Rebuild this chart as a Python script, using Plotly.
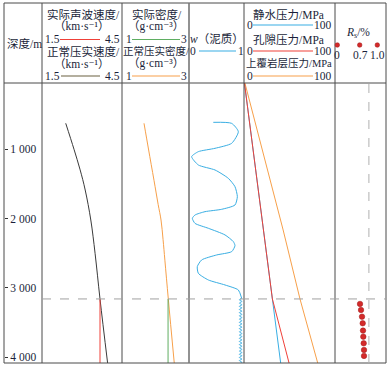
import plotly.graph_objects as go

# ---------------- data ----------------
depth_range = [4080, 50]
depth_ticks = [1000, 2000, 3000, 4000]
depth_ticktext = ["1 000", "2 000", "3 000", "4 000"]
overpressure_top = 3158

# velocity (km/s)
nct_vel_depth = [630, 1004, 1300, 1590, 2022, 2501, 3158, 4080]
nct_vel = [2.39, 2.70, 2.93, 3.12, 3.33, 3.49, 3.675, 3.96]
act_vel_depth = [3158, 4080]
act_vel = [3.675, 3.675]

# density (g/cm3)
nct_den_depth = [630, 1000, 1450, 1800, 2022, 2300, 2600, 3158, 4080]
nct_den = [1.657, 1.79, 1.955, 2.08, 2.165, 2.225, 2.28, 2.382, 2.56]
act_den_depth = [3158, 4080]
act_den = [2.375, 2.375]

# shale content w
shale_depth = [616, 631, 751, 918, 990, 1038, 1110, 1230, 1302, 1422, 1542, 1686,
               1806, 1868, 1902, 1950, 1998, 2070, 2141, 2237, 2333, 2391, 2477,
               2525, 2597, 2693, 2789, 2885, 2957, 3029, 3149]
shale_w = [0.442, 0.776, 0.897, 0.776, 0.473, 0.170, 0.048, 0.170, 0.473, 0.715,
           0.836, 0.879, 0.836, 0.594, 0.291, 0.109, 0.061, 0.109, 0.352, 0.655,
           0.806, 0.836, 0.776, 0.503, 0.230, 0.151, 0.170, 0.352, 0.655, 0.897,
           0.958]
wig_depth = [3149, 3172, 3195, 3218, 3241, 3264, 3287, 3310, 3333, 3356, 3379,
             3402, 3425, 3448, 3471, 3494, 3517, 3540, 3563, 3586, 3609, 3632,
             3655, 3678, 3701, 3724, 3747, 3770, 3793, 3816, 3839, 3862, 3885,
             3908, 3931, 3954, 3977, 4000, 4023, 4046, 4069, 4092]
wig_w = [0.958, 0.915, 0.962, 0.915, 0.962, 0.915, 0.962, 0.915, 0.962, 0.915,
         0.962, 0.915, 0.962, 0.915, 0.962, 0.915, 0.962, 0.915, 0.962, 0.915,
         0.962, 0.915, 0.962, 0.915, 0.962, 0.915, 0.962, 0.915, 0.962, 0.915,
         0.962, 0.915, 0.962, 0.915, 0.962, 0.915, 0.962, 0.915, 0.962, 0.915,
         0.962, 0.915]

# pressure (MPa)
hyd_depth = [0, 4080]
hyd_p = [0, 40.3]
pore_depth = [0, 3158, 4080]
pore_p = [0, 31.2, 49.5]
ob_depth = [0, 2165, 3158, 4080]
ob_p = [0, 43.0, 61.5, 81.0]

# Rs (%)
rs_depth = [3230, 3317, 3413, 3508, 3614, 3701, 3796, 3892, 3978]
rs_val = [0.5675, 0.5925, 0.6175, 0.635, 0.6425, 0.65, 0.66, 0.6675, 0.6675]
rs_threshold = 0.79

# ---------------- layout helpers ----------------
W, H = 392, 370
ML, MR, MT, MB = 4, 6, 3, 7
PW, PH = W - ML - MR, H - MT - MB


def pxx(x):
    return (x - ML) / PW


def pyy(y):
    return (H - MB - y) / PH


SERIF = "Liberation Serif, Noto Sans CJK SC, DejaVu Serif, serif"
TXT = "#1b1f3a"
RED = "#ef4038"
ORANGE = "#f7a04a"
GREEN = "#5fae62"
BLUE = "#39aee3"
DARK = "#3a3a3a"
OLIVE = "#6b6040"
GREY = "#a0a0a0"

fig = go.Figure()

fig.add_trace(go.Scatter(x=nct_vel, y=nct_vel_depth, xaxis="x", yaxis="y", mode="lines",
                         line=dict(color=DARK, width=1, shape="spline")))
fig.add_trace(go.Scatter(x=act_vel, y=act_vel_depth, xaxis="x", yaxis="y", mode="lines",
                         line=dict(color=RED, width=1)))
fig.add_trace(go.Scatter(x=nct_den, y=nct_den_depth, xaxis="x2", yaxis="y", mode="lines",
                         line=dict(color=ORANGE, width=1, shape="spline")))
fig.add_trace(go.Scatter(x=act_den, y=act_den_depth, xaxis="x2", yaxis="y", mode="lines",
                         line=dict(color=GREEN, width=1)))
fig.add_trace(go.Scatter(x=shale_w, y=shale_depth, xaxis="x3", yaxis="y", mode="lines",
                         line=dict(color=BLUE, width=1, shape="spline", smoothing=0.6)))
fig.add_trace(go.Scatter(x=wig_w, y=wig_depth, xaxis="x3", yaxis="y", mode="lines",
                         line=dict(color=BLUE, width=1, shape="spline", smoothing=1.0)))
fig.add_trace(go.Scatter(x=hyd_p, y=hyd_depth, xaxis="x4", yaxis="y", mode="lines",
                         line=dict(color=BLUE, width=1)))
fig.add_trace(go.Scatter(x=ob_p, y=ob_depth, xaxis="x4", yaxis="y", mode="lines",
                         line=dict(color=ORANGE, width=1)))
fig.add_trace(go.Scatter(x=pore_p, y=pore_depth, xaxis="x4", yaxis="y", mode="lines",
                         line=dict(color=RED, width=1)))
fig.add_trace(go.Scatter(x=rs_val, y=rs_depth, xaxis="x5", yaxis="y", mode="markers",
                         marker=dict(color="#d42a2a", size=5.5,
                                     line=dict(color="#9e1a1a", width=0.5))))

plot_top = 83
plot_bot = 363
ydom = [pyy(plot_bot), pyy(plot_top)]

cols = [42, 122, 189, 244, 335, 386]
xranges = [[1.5, 4.5], [1, 3], [0, 1], [0, 100], [-0.0575, 1.2175]]
axnames = ["xaxis", "xaxis2", "xaxis3", "xaxis4", "xaxis5"]
layout_axes = {}
for i, name in enumerate(axnames):
    layout_axes[name] = dict(domain=[pxx(cols[i]), pxx(cols[i + 1])], range=xranges[i],
                             visible=False, anchor="y", fixedrange=True)

fig.update_layout(
    width=W, height=H,
    margin=dict(l=ML, r=MR, t=MT, b=MB),
    paper_bgcolor="white", plot_bgcolor="white",
    showlegend=False,
    yaxis=dict(domain=ydom, range=depth_range, anchor="free", position=0, side="right",
               tickvals=depth_ticks, ticktext=depth_ticktext, ticks="outside",
               ticklen=3, tickcolor="#333", ticklabelposition="outside",
               showgrid=False, zeroline=False, showline=False, fixedrange=True,
               tickfont=dict(family=SERIF, size=11.5, color=TXT)),
    **layout_axes,
)

shapes = []
LINEC = "#4a4a4a"
shapes.append(dict(type="rect", xref="paper", yref="paper", x0=0, x1=1, y0=0, y1=1,
                   line=dict(color=LINEC, width=1)))
shapes.append(dict(type="line", xref="paper", yref="paper", x0=0, x1=1,
                   y0=pyy(plot_top), y1=pyy(plot_top), line=dict(color=LINEC, width=1)))
for xc in cols[:-1]:
    w = 1.6 if xc == 189 else 1
    c = "#777" if xc == 189 else LINEC
    shapes.append(dict(type="line", xref="paper", yref="paper", x0=pxx(xc), x1=pxx(xc),
                       y0=0, y1=1, line=dict(color=c, width=w)))
shapes.append(dict(type="line", xref="paper", yref="y", x0=pxx(42), x1=1,
                   y0=overpressure_top, y1=overpressure_top,
                   line=dict(color=GREY, width=1, dash="dash")))
shapes.append(dict(type="line", xref="x5", yref="paper", x0=rs_threshold, x1=rs_threshold,
                   y0=ydom[0], y1=ydom[1], line=dict(color="#b0b0b0", width=1, dash="dash")))


def hline(x0, x1, y, color):
    shapes.append(dict(type="line", xref="paper", yref="paper", x0=pxx(x0), x1=pxx(x1),
                       y0=pyy(y), y1=pyy(y), line=dict(color=color, width=1.2)))


hline(60, 100, 39.5, RED)
hline(61, 100, 76, OLIVE)
hline(132, 180, 39.5, GREEN)
hline(132, 180, 76, ORANGE)
hline(199, 236, 51, BLUE)
hline(253, 313, 25, BLUE)
hline(253, 313, 51, RED)
hline(253, 313, 76, ORANGE)

for xd in [337.3, 359.7, 377.3]:
    r = 2.3
    shapes.append(dict(type="circle", xref="paper", yref="paper",
                       x0=pxx(xd - r), x1=pxx(xd + r), y0=pyy(45 + r), y1=pyy(45 - r),
                       fillcolor="#d42a2a", line=dict(color="#9e1a1a", width=0.5)))

ann = []


def txt(t, x, y, anchor="center", size=11.5):
    ann.append(dict(text=t, x=pxx(x), y=pyy(y), xref="paper", yref="paper",
                    xanchor=anchor, yanchor="middle", showarrow=False,
                    font=dict(family=SERIF, size=size, color=TXT)))


txt("深度/m", 24, 43)
txt("实际声波速度/", 83, 14)
txt("（km·s⁻¹）", 82, 26.5)
txt("1.5", 43, 39.5, "left")
txt("4.5", 122, 39.5, "right")
txt("正常压实速度/", 83, 51.5)
txt("（km·s⁻¹）", 82, 64)
txt("1.5", 43, 76, "left")
txt("4.5", 122, 76, "right")
txt("实际密度/", 156.5, 14)
txt("（g·cm⁻³）", 156, 26.5)
txt("1", 124, 39.5, "left")
txt("3", 189, 39.5, "right")
txt("正常压实密度/", 155.5, 51.5, size=10.5)
txt("（g·cm⁻³）", 156, 64)
txt("1", 124, 76, "left")
txt("3", 189, 76, "right")
txt("<i>w</i>（泥质）", 217, 39.5)
txt("0", 193.3, 51)
txt("1", 240.5, 51)
txt("静水压力/MPa", 288.5, 14)
txt("0", 245, 25, "left")
txt("100", 334, 25, "right")
txt("孔隙压力/MPa", 288.5, 39.5)
txt("0", 245, 51, "left")
txt("100", 334, 51, "right")
txt("上覆岩层压力/MPa", 288.5, 63, size=10.5)
txt("0", 245, 76, "left")
txt("100", 334, 76, "right")
txt("<i>R</i><sub>s</sub>/%", 358, 33)
txt("0", 337.3, 55)
txt("0.7", 360, 55)
txt("1.0", 377.3, 55)

fig.update_layout(shapes=shapes, annotations=ann)
fig.write_html("out.html", config={"displayModeBar": False},
               post_script="document.body.style.margin='0px';")
